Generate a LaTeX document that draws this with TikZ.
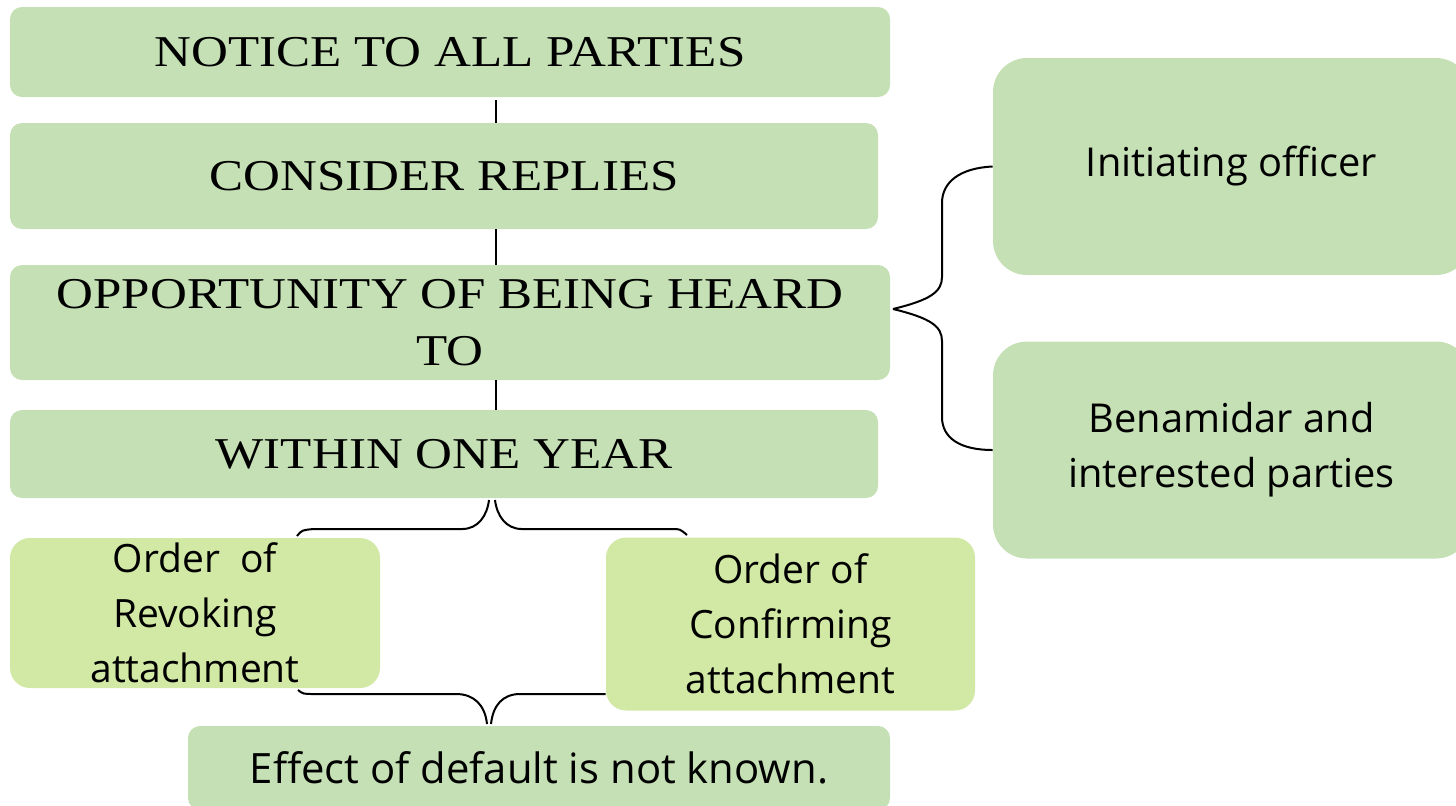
\documentclass[tikz,border=0pt]{standalone}
\usepackage{fontspec}
\setmainfont{Liberation Serif}
\newfontfamily\serifwide[FakeStretch=1.16]{Liberation Serif}
\newfontfamily\uisans{Open Sans}
\usetikzlibrary{backgrounds}
\definecolor{boxgreen}{HTML}{C5E0B4}
\definecolor{lightlime}{HTML}{D2E9A5}
\begin{document}
\begin{tikzpicture}[x=0.5pt,y=-0.5pt,
  mainbox/.style={fill=boxgreen, rounded corners=6pt, inner sep=0pt, align=center,
    font=\serifwide\fontsize{22}{28.5}\selectfont},
  sidebox/.style={fill=boxgreen, rounded corners=17pt, inner sep=0pt, align=center,
    minimum width=238.5pt, minimum height=108.5pt, font=\uisans\fontsize{19.9}{27.5}\selectfont},
  orderbox/.style={fill=lightlime, rounded corners=10pt, inner sep=0pt, align=center,
    font=\uisans\fontsize{19.5}{27.5}\selectfont},
  link/.style={draw=black, line width=0.7pt},
  bracepath/.style={draw=black, line width=1pt}]
\useasboundingbox (0,0) rectangle (1456,805);

\node[mainbox, minimum width=440pt, minimum height=45pt] (notice) at (450,52) {NOTICE TO ALL PARTIES};
\node[mainbox, minimum width=434pt, minimum height=53pt] (consider) at (444,176) {CONSIDER REPLIES};
\node[mainbox, minimum width=440pt, minimum height=57.5pt] (opportunity) at (450,322.5) {OPPORTUNITY OF BEING HEARD\\TO};
\node[mainbox, minimum width=434pt, minimum height=44pt] (within) at (444,454) {WITHIN ONE YEAR};

\node[sidebox] (initiating) at (1231.5,166.5) {Initiating officer};
\node[sidebox] (benamidar) at (1231.5,450) {Benamidar and\\interested parties};

\node[orderbox, minimum width=185pt, minimum height=75pt] (revoking) at (195,613) {Order~ of\\Revoking\\attachment};
\node[orderbox, minimum width=184.5pt, minimum height=86.5pt] (confirming) at (790.5,624) {Order of\\Confirming\\attachment};

\node[mainbox, font=\uisans\fontsize{20.9}{27.5}\selectfont, minimum width=351pt, minimum height=42pt] (effect) at (539,768) {Effect of default is not known.};

% vertical connectors
\coordinate (cx) at (496,0);
\draw[link] (notice.south -| cx) ++(0,3) coordinate (n1) -- (consider.north -| cx);
\draw[link] (consider.south -| cx) -- (opportunity.north -| cx);
\draw[link] (opportunity.south -| cx) -- (within.north -| cx);

\begin{pgfonlayer}{background}
% right brace
\coordinate (rtip) at (893,309);
\draw[bracepath] (rtip) .. controls (930,300) and (942,292) .. (942,277) -- (942,203)
  .. controls (942,182) and (960,168) .. (initiating.west);
\draw[bracepath] (rtip) .. controls (930,318) and (942,326) .. (942,341) -- (942,417)
  .. controls (942,438) and (960,450) .. (benamidar.west);
% top brace under WITHIN ONE YEAR
\coordinate (ttipl) at (489,500);
\coordinate (ttipr) at (495,500);
\coordinate (tl) at (297,536);
\coordinate (tr) at (687,535);
\draw[bracepath] (tl) .. controls (302,530) .. (314,529) -- (462,529)
  .. controls (478,529) and (487,516) .. (ttipl);
\draw[bracepath] (ttipr) .. controls (497,516) and (506,529) .. (522,529) -- (672,529)
  .. controls (680,529) .. (tr);
% bottom brace above Effect box
\coordinate (btipl) at (487,724);
\coordinate (btipr) at (491,724);
\coordinate (bl) at (298,690);
\draw[bracepath] (bl) .. controls (303,694) .. (315,694) -- (456,694)
  .. controls (474,694) and (485,705) .. (btipl);
\draw[bracepath] (btipr) .. controls (493,705) and (503,694) .. (520,694) -- (confirming.west |- 0,694);
\end{pgfonlayer}
\end{tikzpicture}
\end{document}
